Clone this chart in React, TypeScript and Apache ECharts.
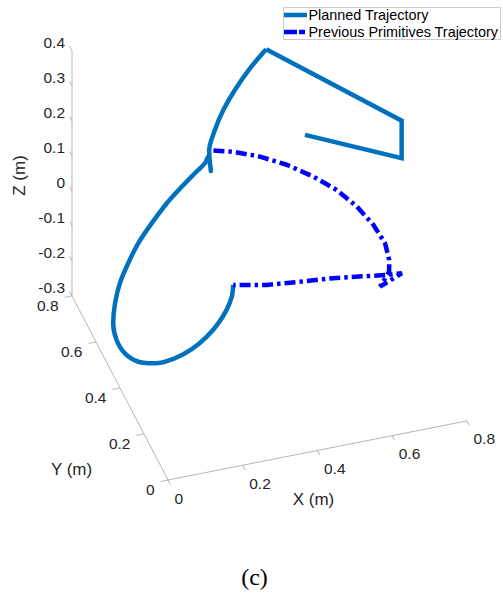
import React, { useEffect, useRef } from "react";
import * as echarts from "echarts";

// Axis limits and ticks (m)
const X_LIMITS = [0, 0.8];
const Y_LIMITS = [0, 0.8];
const Z_LIMITS = [-0.3, 0.4];
const X_TICKS = [0, 0.2, 0.4, 0.6, 0.8];
const Y_TICKS = [0, 0.2, 0.4, 0.6, 0.8];
const Z_TICKS = [-0.3, -0.2, -0.1, 0, 0.1, 0.2, 0.3, 0.4];

// Planned trajectory (m): a smooth climb followed by straight waypoint legs
const PLANNED_X = [0.25, 0.241, 0.221, 0.196, 0.164, 0.124, 0.084, 0.042, 0.016, 0.006, 0.012, 0.028, 0.058, 0.089, 0.125, 0.162, 0.202, 0.245, 0.284, 0.317, 0.345, 0.355, 0.362, 0.358, 0.371, 0.392, 0.42, 0.46, 0.498, 0.727, 0.727, 0.521];
const PLANNED_Y = [0.235, 0.219, 0.2, 0.192, 0.187, 0.188, 0.204, 0.238, 0.296, 0.378, 0.466, 0.544, 0.622, 0.678, 0.721, 0.753, 0.764, 0.773, 0.769, 0.763, 0.766, 0.77, 0.77, 0.772, 0.764, 0.759, 0.751, 0.748, 0.733, 0.317, 0.317, 0.481];
const PLANNED_Z = [0.05, 0.029, 0.008, -0.02, -0.048, -0.076, -0.104, -0.132, -0.16, -0.188, -0.209, -0.216, -0.216, -0.202, -0.181, -0.153, -0.111, -0.069, -0.027, 0.008, 0.029, 0.043, 0.0, 0.057, 0.12, 0.176, 0.232, 0.288, 0.344, 0.365, 0.258, 0.26];
// index where the smooth part ends and the straight waypoint legs start
const PLANNED_WAYPOINT_START = 28;

// Previous primitives trajectory (m)
const PREVIOUS_X = [0.372, 0.419, 0.477, 0.532, 0.581, 0.621, 0.649, 0.666, 0.671, 0.66, 0.645, 0.604, 0.674, 0.636, 0.501, 0.416, 0.331, 0.25];
const PREVIOUS_Y = [0.78, 0.76, 0.72, 0.667, 0.6, 0.529, 0.448, 0.363, 0.281, 0.212, 0.166, 0.114, 0.15, 0.155, 0.184, 0.196, 0.209, 0.235];
const PREVIOUS_Z = [0.05, 0.05, 0.05, 0.05, 0.05, 0.05, 0.05, 0.05, 0.05, 0.05, 0.05, 0.05, 0.05, 0.05, 0.05, 0.05, 0.05, 0.05];

const SERIES_NAMES = ["Planned Trajectory", "Previous Primitives Trajectory"];
const AXIS_TITLES = ["X (m)", "Y (m)", "Z (m)"];

// Orthographic camera for the 3-D axes box
const AZIMUTH = -17.8;
const ELEVATION = 38;
const BOX_SIZE = 314;
const BOX_ASPECT = [1, 1, 0.99];

// 2-D viewport of the projected scene (box corner x=0,y=0,z=min sits at 0,0)
const VIEW_X = [-168, 335];
const VIEW_Y = [-115, 480];

const PLANNED_COLOR = "#0072BD";
const PREVIOUS_COLOR = "#0000FF";
const LINE_WIDTH = 4.5;
const DASH_DOT = [11, 4, 3.5, 4];
const TEXT_COLOR = "#262626";
const AXIS_COLOR = "#a3a3a3";
const FONT = "'Liberation Sans', Arial, Helvetica, sans-serif";

const RAD = Math.PI / 180;

function project(x: number, y: number, z: number): [number, number] {
  const X = ((x - X_LIMITS[0]) / (X_LIMITS[1] - X_LIMITS[0])) * BOX_SIZE * BOX_ASPECT[0];
  const Y = ((y - Y_LIMITS[0]) / (Y_LIMITS[1] - Y_LIMITS[0])) * BOX_SIZE * BOX_ASPECT[1];
  const Z = ((z - Z_LIMITS[0]) / (Z_LIMITS[1] - Z_LIMITS[0])) * BOX_SIZE * BOX_ASPECT[2];
  const a = AZIMUTH * RAD;
  const e = ELEVATION * RAD;
  const h = Math.cos(a) * X + Math.sin(a) * Y;
  const v = -Math.sin(e) * Math.sin(a) * X + Math.sin(e) * Math.cos(a) * Y + Math.cos(e) * Z;
  return [h, v];
}

function trajectory(xs: number[], ys: number[], zs: number[]) {
  return xs.map((x, i) => project(x, ys[i], zs[i]));
}

type Label = {
  text: string;
  dx: number;
  dy: number;
  align: string;
  size: number;
  rotate?: number;
};

function buildScene() {
  const xSpan = X_LIMITS[1] - X_LIMITS[0];
  const ySpan = Y_LIMITS[1] - Y_LIMITS[0];
  const tickLen = 0.025;
  const ticks: number[][] = [];
  const labelPoints: number[][] = [];
  const labels: Label[] = [];

  X_TICKS.forEach((t) => {
    const a = project(t, Y_LIMITS[0], Z_LIMITS[0]);
    const b = project(t, Y_LIMITS[0] - tickLen * ySpan, Z_LIMITS[0]);
    ticks.push([a[0], a[1], b[0], b[1]]);
    labelPoints.push(a);
    labels.push({ text: String(t), dx: 6.5, dy: 18, align: "left", size: 15.5 });
  });
  Y_TICKS.forEach((t) => {
    const a = project(X_LIMITS[0], t, Z_LIMITS[0]);
    const b = project(X_LIMITS[0] - tickLen * xSpan, t, Z_LIMITS[0]);
    ticks.push([a[0], a[1], b[0], b[1]]);
    labelPoints.push(a);
    labels.push({ text: String(t), dx: -13.5, dy: 9.5, align: "right", size: 15.5 });
  });
  Z_TICKS.forEach((t) => {
    const a = project(X_LIMITS[0], Y_LIMITS[1], t);
    const b = project(X_LIMITS[0], Y_LIMITS[1] + tickLen * ySpan, t);
    ticks.push([a[0], a[1], b[0], b[1]]);
    labelPoints.push(a);
    labels.push({ text: String(t), dx: -7, dy: -8.5, align: "right", size: 15.5 });
  });

  const xMid = (X_LIMITS[0] + X_LIMITS[1]) / 2;
  const yMid = (Y_LIMITS[0] + Y_LIMITS[1]) / 2;
  const zMid = (Z_LIMITS[0] + Z_LIMITS[1]) / 2;
  labelPoints.push(project(xMid, Y_LIMITS[0], Z_LIMITS[0]));
  labels.push({ text: AXIS_TITLES[0], dx: -4, dy: 49.5, align: "center", size: 17 });
  labelPoints.push(project(X_LIMITS[0], yMid, Z_LIMITS[0]));
  labels.push({ text: AXIS_TITLES[1], dx: -48.5, dy: 81.5, align: "center", size: 17 });
  labelPoints.push(project(X_LIMITS[0], Y_LIMITS[1], zMid));
  labels.push({ text: AXIS_TITLES[2], dx: -53, dy: 2, align: "center", size: 17, rotate: 90 });

  const axisLines = [
    project(X_LIMITS[0], Y_LIMITS[1], Z_LIMITS[1]),
    project(X_LIMITS[0], Y_LIMITS[1], Z_LIMITS[0]),
    project(X_LIMITS[0], Y_LIMITS[0], Z_LIMITS[0]),
    project(X_LIMITS[1], Y_LIMITS[0], Z_LIMITS[0]),
  ];
  return { ticks, labelPoints, labels, axisLines };
}

// Legend box drawn in the top-right corner
function legendGraphic() {
  const left = 283.5;
  const top = 7.5;
  const rowY = [15, 32];
  const sampleX = [284, 307];
  const textX = 308.5;
  return {
    type: "group",
    children: [
      {
        type: "rect",
        shape: { x: left, y: top, width: 217, height: 32 },
        style: { fill: "#ffffff", stroke: "#bdbdbd", lineWidth: 0.8 },
      },
      {
        type: "line",
        shape: { x1: sampleX[0], y1: rowY[0], x2: sampleX[1], y2: rowY[0] },
        style: { stroke: PLANNED_COLOR, lineWidth: LINE_WIDTH },
      },
      {
        type: "line",
        shape: { x1: sampleX[0], y1: rowY[1], x2: sampleX[1], y2: rowY[1] },
        style: { stroke: PREVIOUS_COLOR, lineWidth: LINE_WIDTH, lineDash: [13, 2, 6, 2] },
      },
      ...SERIES_NAMES.map((name, i) => ({
        type: "text",
        x: textX,
        y: rowY[i],
        style: {
          text: name,
          fill: "#000000",
          fontSize: 14.4,
          fontFamily: FONT,
          align: "left",
          verticalAlign: "middle",
        },
      })),
    ],
  };
}

export default function App() {
  const ref = useRef<HTMLDivElement>(null);

  useEffect(() => {
    if (!ref.current) return;
    const chart = echarts.init(ref.current, undefined, { renderer: "svg" });
    const { ticks, labelPoints, labels, axisLines } = buildScene();
    const planned = trajectory(PLANNED_X, PLANNED_Y, PLANNED_Z);
    const previous = trajectory(PREVIOUS_X, PREVIOUS_Y, PREVIOUS_Z);

    chart.setOption({
      animation: false,
      backgroundColor: "#ffffff",
      grid: { left: 0, right: 0, top: 0, bottom: 0 },
      xAxis: { type: "value", min: VIEW_X[0], max: VIEW_X[1], show: false },
      yAxis: { type: "value", min: VIEW_Y[0], max: VIEW_Y[1], show: false },
      graphic: [
        { ...legendGraphic(), z: 100 },
        {
          type: "text",
          x: 254.5,
          y: 577,
          style: {
            text: "(c)",
            fontFamily: "'Liberation Serif', 'DejaVu Serif', serif",
            fontSize: 24,
            fill: "#000000",
            align: "center",
            verticalAlign: "middle",
          },
        },
      ],
      series: [
        {
          name: "axes",
          type: "line",
          data: axisLines,
          symbol: "none",
          silent: true,
          lineStyle: { color: AXIS_COLOR, width: 0.8 },
          z: 1,
        },
        {
          name: "ticks",
          type: "custom",
          silent: true,
          data: ticks,
          encode: { x: [0, 2], y: [1, 3] },
          renderItem: (_params: any, api: any) => {
            const p1 = api.coord([api.value(0), api.value(1)]);
            const p2 = api.coord([api.value(2), api.value(3)]);
            return {
              type: "line",
              shape: { x1: p1[0], y1: p1[1], x2: p2[0], y2: p2[1] },
              style: { stroke: AXIS_COLOR, lineWidth: 0.8 },
            };
          },
          z: 1,
        },
        {
          name: "labels",
          type: "custom",
          silent: true,
          data: labelPoints,
          renderItem: (params: any, api: any) => {
            const lab = labels[params.dataIndex];
            const p = api.coord([api.value(0), api.value(1)]);
            return {
              type: "text",
              x: p[0] + lab.dx,
              y: p[1] + lab.dy,
              rotation: lab.rotate ? (lab.rotate * Math.PI) / 180 : 0,
              style: {
                text: lab.text,
                fill: TEXT_COLOR,
                fontSize: lab.size,
                fontFamily: FONT,
                align: lab.align,
                verticalAlign: "middle",
              },
            };
          },
          z: 2,
        },
        {
          name: SERIES_NAMES[0],
          type: "line",
          data: planned.slice(0, PLANNED_WAYPOINT_START + 1),
          symbol: "none",
          smooth: 0.35,
          silent: true,
          lineStyle: { color: PLANNED_COLOR, width: LINE_WIDTH, join: "round" },
          z: 3,
        },
        {
          name: SERIES_NAMES[0],
          type: "line",
          data: planned.slice(PLANNED_WAYPOINT_START),
          symbol: "none",
          silent: true,
          lineStyle: { color: PLANNED_COLOR, width: LINE_WIDTH, join: "miter" },
          z: 3,
        },
        {
          name: SERIES_NAMES[1],
          type: "line",
          data: previous,
          symbol: "none",
          silent: true,
          lineStyle: { color: PREVIOUS_COLOR, width: LINE_WIDTH, type: DASH_DOT, cap: "butt" },
          z: 4,
        },
      ],
    });

    return () => chart.dispose();
  }, []);

  return (
    <div
      ref={ref}
      style={{ position: "absolute", left: 0, top: 0, width: 503, height: 595 }}
    />
  );
}
